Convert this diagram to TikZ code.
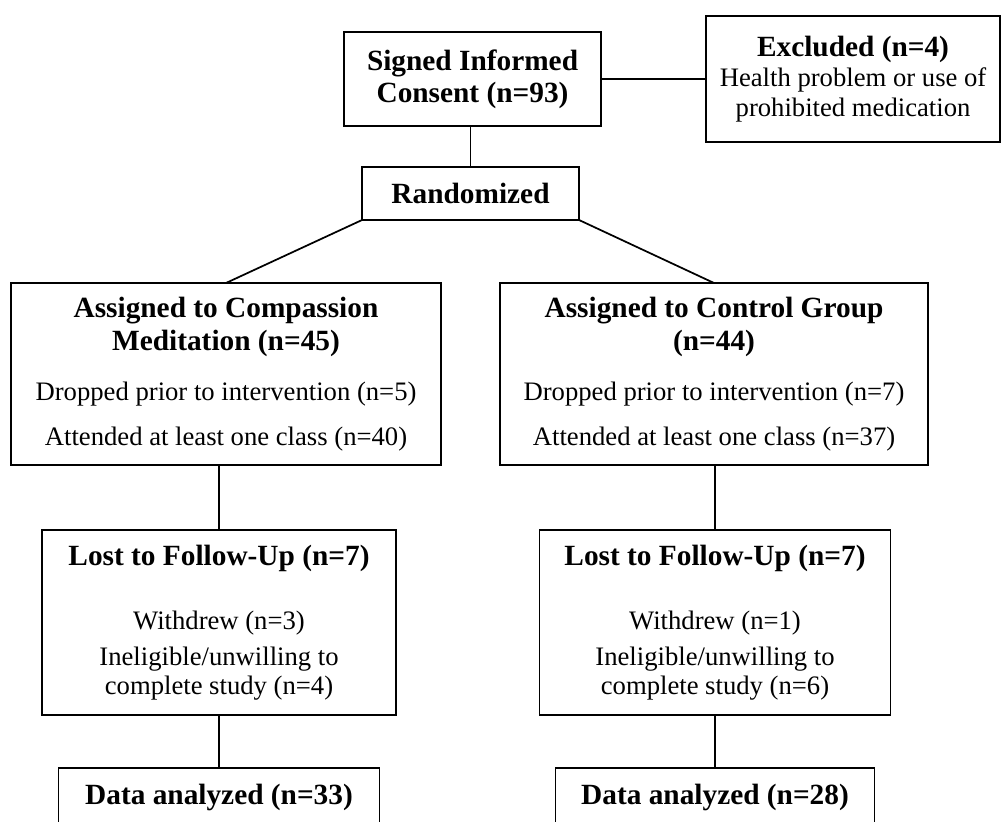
\documentclass[tikz,border=0pt]{standalone}
\usepackage{fontspec}
\setmainfont{Liberation Serif}
\usetikzlibrary{positioning}
\newcommand{\hdr}[1]{{\fontsize{22}{22}\selectfont\bfseries #1}}
\newcommand{\spaced}[1]{\fontsize{20}{#1}\selectfont}

\begin{document}
\begin{tikzpicture}[
  box/.style={rectangle,draw=black,line width=1.3pt,inner sep=0pt,
              outer sep=0pt,align=center},
  conn/.style={draw=black,line width=1.3pt},
]
\clip (0,0) rectangle (751.5pt,-615.75pt);
\useasboundingbox (0,0) rectangle (751.5pt,-615.75pt);
\fill[white] (0,0) rectangle (751.5pt,-615.75pt);

\node[box,minimum width=192.75pt,minimum height=70.5pt,font=\spaced{24}]
  (consent) at (354.4pt,-59.25pt) {\hdr{Signed Informed}\\\hdr{Consent (n=93)}};
\node[box,minimum width=220.5pt,minimum height=94.5pt,font=\spaced{22.5},
  right=78.75pt of consent] (excl)
  {\hdr{Excluded (n=4)}\\Health problem or use of\\prohibited medication};
\node[box,minimum width=162.75pt,minimum height=39.75pt,font=\spaced{24},
  below=30.75pt of consent,xshift=-1.5pt] (rand) {\hdr{Randomized}};

\node[box,minimum width=322.5pt,minimum height=136.5pt,font=\spaced{24.75},
  below=47.25pt of rand,xshift=-183.4pt] (assignL)
  {\hdr{Assigned to Compassion}\\\hdr{Meditation (n=45)}\\[12.75pt]
   Dropped prior to intervention (n=5)\\[9pt]
   Attended at least one class (n=40)};
\node[box,minimum width=321pt,minimum height=136.5pt,font=\spaced{24.75},
  below=47.25pt of rand,xshift=182.6pt] (assignR)
  {\hdr{Assigned to Control Group}\\\hdr{(n=44)}\\[12.75pt]
   Dropped prior to intervention (n=7)\\[9pt]
   Attended at least one class (n=37)};

\node[box,minimum width=265.5pt,minimum height=138.75pt,font=\spaced{21.75},
  below=48.75pt of assignL,xshift=-5.25pt] (lostL)
  {\hdr{Lost to Follow-Up (n=7)}\\[26.25pt]Withdrew (n=3)\\[5.25pt]
   Ineligible/unwilling to\\complete study (n=4)};
\node[box,minimum width=263.25pt,minimum height=138.75pt,font=\spaced{21.75},
  below=48.75pt of assignR,xshift=0.75pt] (lostR)
  {\hdr{Lost to Follow-Up (n=7)}\\[26.25pt]Withdrew (n=1)\\[5.25pt]
   Ineligible/unwilling to\\complete study (n=6)};

\node[box,minimum width=240.75pt,minimum height=43.5pt,
  below=39.75pt of lostL] (dataL) {\hdr{Data analyzed (n=33)}};
\node[box,minimum width=239.25pt,minimum height=43.5pt,
  below=39.75pt of lostR] (dataR) {\hdr{Data analyzed (n=28)}};

\draw[conn] (consent) -- (excl);
\draw[conn] (rand.north) -- (rand.north |- consent.south);
\draw[conn] (rand.south west) -- (assignL.north);
\draw[conn] (rand.south east) -- (assignR.north);
\draw[conn] (lostL.north |- assignL.south) -- (lostL.north);
\draw[conn] (lostR.north |- assignR.south) -- (lostR.north);
\draw[conn] (dataL.north |- lostL.south) -- (dataL.north);
\draw[conn] (dataR.north |- lostR.south) -- (dataR.north);

\end{tikzpicture}
\end{document}
